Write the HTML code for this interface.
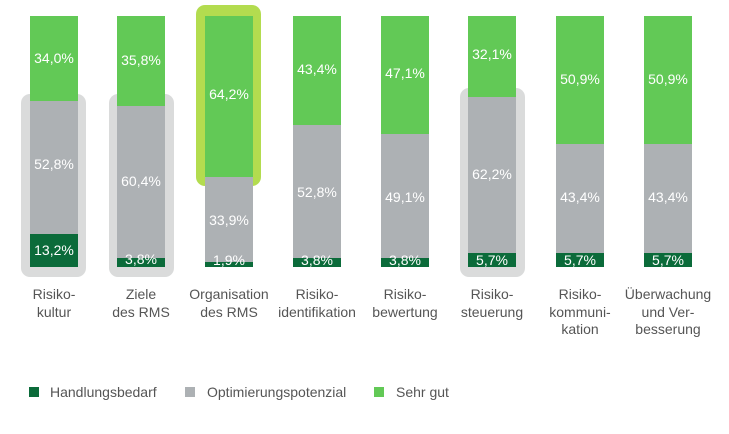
<!DOCTYPE html>
<html><head><meta charset="utf-8"><style>
html,body{margin:0;padding:0;background:#fff;}
#c{position:relative;width:729px;height:434px;overflow:hidden;font-family:"Liberation Sans",sans-serif;}
.a{position:absolute;}
.hg{background:#dadbdb;border-radius:9px;}
.hl{background:#b3dc4f;border-radius:9px;}
.g{background:#62c956;}
.s{background:#adb1b4;}
.d{background:#0b6b3a;}
.v{position:absolute;width:48px;text-align:center;color:#fff;font-size:14px;line-height:16px;height:16px;}
.lb{position:absolute;width:110px;text-align:center;color:#555;font-size:14px;line-height:17.5px;top:286px;}
.lg{position:absolute;top:384px;font-size:14px;color:#555;line-height:16px;}
.sq{position:absolute;width:10px;height:10px;top:387px;}
</style></head><body><div id="c">
<!-- highlights -->
<div class="a hg" style="left:21px;top:94px;width:65px;height:183px"></div>
<div class="a hg" style="left:109px;top:94px;width:65px;height:183px"></div>
<div class="a hg" style="left:460px;top:88px;width:65px;height:189px"></div>
<div class="a hl" style="left:196px;top:5px;width:65px;height:181px"></div>

<!-- bar 1 -->
<div class="a g" style="left:30px;top:16px;width:48px;height:85px"></div>
<div class="a s" style="left:30px;top:101px;width:48px;height:133px"></div>
<div class="a d" style="left:30px;top:234px;width:48px;height:33px"></div>
<div class="v" style="left:30px;top:50px">34,0%</div>
<div class="v" style="left:30px;top:156px">52,8%</div>
<div class="v" style="left:30px;top:242px">13,2%</div>

<!-- bar 2 -->
<div class="a g" style="left:117px;top:16px;width:48px;height:90px"></div>
<div class="a s" style="left:117px;top:106px;width:48px;height:151.5px"></div>
<div class="a d" style="left:117px;top:257.5px;width:48px;height:9.5px"></div>
<div class="v" style="left:117px;top:52px">35,8%</div>
<div class="v" style="left:117px;top:173px">60,4%</div>
<div class="v" style="left:117px;top:251px">3,8%</div>

<!-- bar 3 -->
<div class="a g" style="left:205px;top:16px;width:48px;height:161px"></div>
<div class="a s" style="left:205px;top:177px;width:48px;height:85px"></div>
<div class="a d" style="left:205px;top:262px;width:48px;height:5px"></div>
<div class="v" style="left:205px;top:86px">64,2%</div>
<div class="v" style="left:205px;top:212px">33,9%</div>
<div class="v" style="left:205px;top:252px">1,9%</div>

<!-- bar 4 -->
<div class="a g" style="left:293px;top:16px;width:48px;height:109px"></div>
<div class="a s" style="left:293px;top:125px;width:48px;height:132.5px"></div>
<div class="a d" style="left:293px;top:257.5px;width:48px;height:9.5px"></div>
<div class="v" style="left:293px;top:61px">43,4%</div>
<div class="v" style="left:293px;top:184px">52,8%</div>
<div class="v" style="left:293px;top:252px">3,8%</div>

<!-- bar 5 -->
<div class="a g" style="left:381px;top:16px;width:48px;height:118px"></div>
<div class="a s" style="left:381px;top:134px;width:48px;height:123.5px"></div>
<div class="a d" style="left:381px;top:257.5px;width:48px;height:9.5px"></div>
<div class="v" style="left:381px;top:65px">47,1%</div>
<div class="v" style="left:381px;top:189px">49,1%</div>
<div class="v" style="left:381px;top:252px">3,8%</div>

<!-- bar 6 -->
<div class="a g" style="left:468px;top:16px;width:48px;height:80.5px"></div>
<div class="a s" style="left:468px;top:96.5px;width:48px;height:156px"></div>
<div class="a d" style="left:468px;top:252.5px;width:48px;height:14.5px"></div>
<div class="v" style="left:468px;top:46px">32,1%</div>
<div class="v" style="left:468px;top:166px">62,2%</div>
<div class="v" style="left:468px;top:252px">5,7%</div>

<!-- bar 7 -->
<div class="a g" style="left:556px;top:16px;width:48px;height:127.5px"></div>
<div class="a s" style="left:556px;top:143.5px;width:48px;height:109px"></div>
<div class="a d" style="left:556px;top:252.5px;width:48px;height:14.5px"></div>
<div class="v" style="left:556px;top:71px">50,9%</div>
<div class="v" style="left:556px;top:189px">43,4%</div>
<div class="v" style="left:556px;top:252px">5,7%</div>

<!-- bar 8 -->
<div class="a g" style="left:644px;top:16px;width:48px;height:127.5px"></div>
<div class="a s" style="left:644px;top:143.5px;width:48px;height:109px"></div>
<div class="a d" style="left:644px;top:252.5px;width:48px;height:14.5px"></div>
<div class="v" style="left:644px;top:71px">50,9%</div>
<div class="v" style="left:644px;top:189px">43,4%</div>
<div class="v" style="left:644px;top:252px">5,7%</div>

<!-- labels -->
<div class="lb" style="left:-1px">Risiko-<br>kultur</div>
<div class="lb" style="left:86px">Ziele<br>des RMS</div>
<div class="lb" style="left:174px">Organisation<br>des RMS</div>
<div class="lb" style="left:262px">Risiko-<br>identifikation</div>
<div class="lb" style="left:350px">Risiko-<br>bewertung</div>
<div class="lb" style="left:437px">Risiko-<br>steuerung</div>
<div class="lb" style="left:525px">Risiko-<br>kommuni-<br>kation</div>
<div class="lb" style="left:613px">Überwachung<br>und Ver-<br>besserung</div>

<!-- legend -->
<div class="sq" style="left:29px;background:#0b6b3a"></div>
<div class="lg" style="left:50px">Handlungsbedarf</div>
<div class="sq" style="left:185px;background:#adb1b4"></div>
<div class="lg" style="left:207px">Optimierungspotenzial</div>
<div class="sq" style="left:374px;background:#62c956"></div>
<div class="lg" style="left:396px">Sehr gut</div>
</div></body></html>
